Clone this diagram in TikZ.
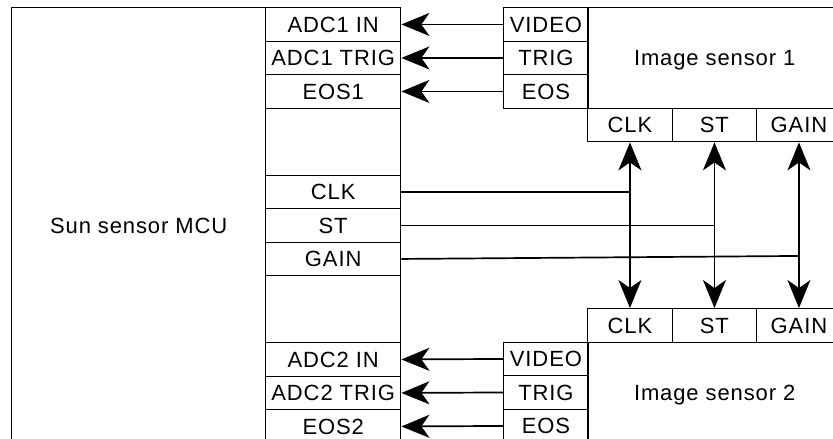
\documentclass[tikz,border=0pt]{standalone}
\usepackage{fontspec}
\setmainfont{Liberation Sans}[LetterSpace=4]
\usetikzlibrary{arrows.meta}
\tikzset{
  cell/.style={draw, line width=1.4pt, inner sep=0pt, anchor=north west,
    font=\fontsize{22}{24}\selectfont, minimum height=33.5pt},
  mcell/.style={cell, minimum width=135pt},
  scell/.style={cell, minimum width=84.5pt},
  body/.style={cell, minimum width=254pt, text depth=0pt},
  wire/.style={line width=1.7pt},
  sig/.style={wire, arrows={-Stealth[length=28pt,width=23pt,inset=8pt]}},
  bus/.style={wire, arrows={Stealth[length=28pt,width=23pt,inset=8pt]-Stealth[length=28pt,width=23pt,inset=8pt]}},
}
\begin{document}
\begin{tikzpicture}[x=1pt,y=-1pt]
\useasboundingbox (0,0) rectangle (833,439);
\clip (0,0) rectangle (833,439);
% MCU
\node[body, minimum height=436pt] (mcu) at (11,7) {Sun sensor MCU};
\node[mcell] (madc1in)   at (265,7)     {ADC1 IN};
\node[mcell] (madc1trig) at (265,40.5)  {ADC1 TRIG};
\node[mcell] (meos1)     at (265,74)    {EOS1};
\node[mcell, minimum height=67pt] (mblank1) at (265,107.5) {};
\node[mcell] (mclk)      at (265,174.5) {CLK};
\node[mcell] (mst)       at (265,208)   {ST};
\node[mcell] (mgain)     at (265,241.5) {GAIN};
\node[mcell, minimum height=67pt] (mblank2) at (265,275) {};
\node[mcell] (madc2in)   at (265,342)   {ADC2 IN};
\node[mcell] (madc2trig) at (265,375.5) {ADC2 TRIG};
\node[mcell] (meos2)     at (265,409)   {EOS2};
% Image sensor 1
\node[body, minimum height=100.5pt] (s1) at (587,7) {Image sensor 1};
\node[scell] (s1video) at (503,7)    {VIDEO};
\node[scell] (s1trig)  at (503,40.5) {TRIG};
\node[scell] (s1eos)   at (503,74)   {EOS};
\node[scell] (s1clk)   at (587,107.5) {CLK};
\node[scell] (s1st)    at (671.5,107.5) {ST};
\node[scell] (s1gain)  at (756,107.5) {GAIN};
% Image sensor 2
\node[scell] (s2clk)   at (587,308)   {CLK};
\node[scell] (s2st)    at (671.5,308) {ST};
\node[scell] (s2gain)  at (756,308)   {GAIN};
\node[body, minimum height=100.5pt] (s2) at (587,341.5) {Image sensor 2};
\node[scell] (s2video) at (503,341.5) {VIDEO};
\node[scell] (s2trig)  at (503,375)   {TRIG};
\node[scell] (s2eos)   at (503,408.5) {EOS};
% outputs to MCU
\draw[sig] (s1video.west) -- (madc1in.east);
\draw[sig] (s1trig.west)  -- (madc1trig.east);
\draw[sig] (s1eos.west)   -- (meos1.east);
\draw[sig] (s2video.west) -- (madc2in.east);
\draw[sig] (s2trig.west)  -- (madc2trig.east);
\draw[sig] (s2eos.west)   -- (meos2.east);
% shared control lines
\draw[bus] (s1clk.south)  -- (s2clk.north);
\draw[bus] (s1st.south)   -- (s2st.north);
\draw[bus] (s1gain.south) -- (s2gain.north);
\coordinate (jclk)  at (s1clk.south |- mclk.east);
\coordinate (jst)   at (s1st.south |- mst.east);
\coordinate (jgain) at ([yshift=3pt]s1gain.south |- mgain.east);
\draw[wire] (mclk.east)  -- (jclk);
\draw[wire] (mst.east)   -- (jst);
\draw[wire] (mgain.east) -- (jgain);
\end{tikzpicture}
\end{document}
